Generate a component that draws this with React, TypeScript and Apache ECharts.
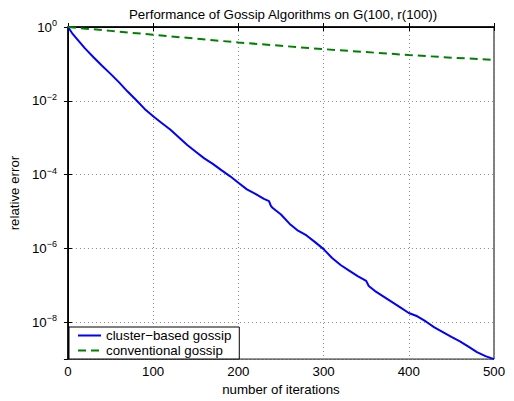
import React, { useEffect, useRef } from 'react';
import * as echarts from 'echarts';

const titleText = 'Performance of Gossip Algorithms on G(100, r(100))';
const xAxisName = 'number of iterations';
const yAxisName = 'relative error';
const xTicks = [0, 100, 200, 300, 400, 500];
const yTickExponents = [0, -2, -4, -6, -8];
const yMinExponent = -9;

const clusterName = 'cluster\u2212based gossip';
const clusterIter = [0, 5, 10, 20, 30, 40, 50, 60, 70, 80, 90, 100, 110, 120, 130, 140, 150, 160, 170, 180, 190, 200, 210, 220, 230, 236, 238, 240, 250, 260, 270, 280, 290, 300, 310, 320, 330, 340, 350, 353, 360, 370, 380, 390, 400, 410, 420, 430, 440, 450, 460, 470, 480, 490, 500];
const clusterExp = [0, -0.17, -0.31, -0.58, -0.82, -1.05, -1.27, -1.5, -1.75, -1.98, -2.22, -2.42, -2.6, -2.78, -2.99, -3.2, -3.38, -3.56, -3.71, -3.88, -4.04, -4.22, -4.4, -4.52, -4.66, -4.72, -4.84, -4.9, -5.08, -5.33, -5.52, -5.65, -5.83, -6.02, -6.26, -6.45, -6.6, -6.75, -6.88, -7.02, -7.15, -7.3, -7.45, -7.6, -7.75, -7.84, -7.98, -8.14, -8.27, -8.4, -8.52, -8.66, -8.81, -8.92, -9.0];

const convName = 'conventional gossip';
const convIter = [0, 50, 100, 150, 200, 250, 300, 350, 400, 450, 500];
const convExp = [0, -0.105, -0.21, -0.315, -0.42, -0.51, -0.6, -0.68, -0.76, -0.83, -0.89];

const FONT = 'Liberation Sans, Arial, sans-serif';
const FS = 13.3;

export default function App() {
  const ref = useRef<HTMLDivElement>(null);
  useEffect(() => {
    document.body.style.margin = '0';
    if (!ref.current) return;
    const chart = echarts.init(ref.current, undefined, { renderer: 'svg' });
    const xInterval = xTicks[1] - xTicks[0];
    const supText = (v: number) => (v === 0 ? '0' : '\u2212' + Math.abs(v));
    const gridLine = { show: true, lineStyle: { color: '#8a8a8a', width: 1, type: [1, 3] as any } };
    chart.setOption({
      animation: false,
      backgroundColor: '#fff',
      textStyle: { fontFamily: FONT },
      title: {
        text: titleText,
        left: 124,
        top: 3,
        textStyle: { fontFamily: FONT, fontSize: FS, fontWeight: 'normal', color: '#000' },
      },
      grid: { left: 65, right: 20, top: 27, bottom: 37, show: true, borderColor: '#000', borderWidth: 1 },
      legend: {
        orient: 'vertical',
        left: 69,
        top: 327,
        itemWidth: 23,
        itemHeight: 14,
        itemGap: 2,
        itemStyle: { opacity: 0 },
        padding: [2, 8, 2, 8],
        backgroundColor: '#fff',
        borderColor: '#000',
        borderWidth: 1,
        borderRadius: 0,
        textStyle: { fontFamily: FONT, fontSize: FS, color: '#000', padding: [0, 0, 0, 0] },
        itemTextGap: 7,
        data: [clusterName, convName],
      },
      xAxis: [
        {
          type: 'value',
          min: xTicks[0],
          max: xTicks[xTicks.length - 1],
          interval: xInterval,
          name: xAxisName,
          nameLocation: 'middle',
          nameGap: 19,
          nameTextStyle: { fontFamily: FONT, fontSize: FS, color: '#000' },
          axisLine: { show: true, lineStyle: { color: '#000', width: 1.5 } },
          axisTick: { show: true, inside: true, length: 4, lineStyle: { color: '#000' } },
          axisLabel: { fontFamily: FONT, fontSize: FS, color: '#000', margin: 6 },
          splitLine: gridLine,
        },
        {
          type: 'value',
          position: 'top',
          min: xTicks[0],
          max: xTicks[xTicks.length - 1],
          interval: xInterval,
          axisLine: { show: true, lineStyle: { color: '#000', width: 1 } },
          axisTick: { show: true, inside: true, length: 4, lineStyle: { color: '#000' } },
          axisLabel: { show: false },
          splitLine: { show: false },
        },
      ],
      yAxis: [
        {
          type: 'value',
          min: yMinExponent,
          max: yTickExponents[0],
          splitNumber: 5,
          minInterval: 2,
          maxInterval: 2,
          name: yAxisName,
          nameLocation: 'middle',
          nameGap: 36,
          nameTextStyle: { fontFamily: FONT, fontSize: FS, color: '#000' },
          axisLine: { show: true, lineStyle: { color: '#000', width: 1.5 } },
          axisTick: { show: true, inside: true, length: 4, lineStyle: { color: '#000' } },
          axisLabel: {
            margin: 11,
            showMinLabel: false,
            formatter: (v: number) => (yTickExponents.includes(v) ? `{b|10}{s|${supText(v)}}` : ''),
            rich: {
              b: { fontFamily: FONT, fontSize: FS, color: '#000' },
              s: { fontFamily: FONT, fontSize: 9, color: '#000', padding: [0, 0, 8, 0] },
            },
          },
          splitLine: gridLine,
        },
        {
          type: 'value',
          position: 'right',
          min: yMinExponent,
          max: yTickExponents[0],
          splitNumber: 5,
          minInterval: 2,
          maxInterval: 2,
          axisLine: { show: true, lineStyle: { color: '#000', width: 1 } },
          axisTick: { show: true, inside: true, length: 4, lineStyle: { color: '#000' } },
          axisLabel: { show: false },
          splitLine: { show: false },
        },
      ],
      series: [
        {
          name: clusterName,
          type: 'line',
          symbol: 'none',
          data: clusterIter.map((x, i) => [x, clusterExp[i]]),
          lineStyle: { color: '#0000ff', width: 2 },
          itemStyle: { color: '#0000ff' },
          z: 3,
        },
        {
          name: convName,
          type: 'line',
          symbol: 'none',
          data: convIter.map((x, i) => [x, convExp[i]]),
          lineStyle: { color: '#008000', width: 2, type: [8, 5] as any },
          itemStyle: { color: '#008000' },
          z: 4,
        },
      ],
    });
    return () => chart.dispose();
  }, []);
  return <div ref={ref} style={{ width: 514, height: 401 }} />;
}
